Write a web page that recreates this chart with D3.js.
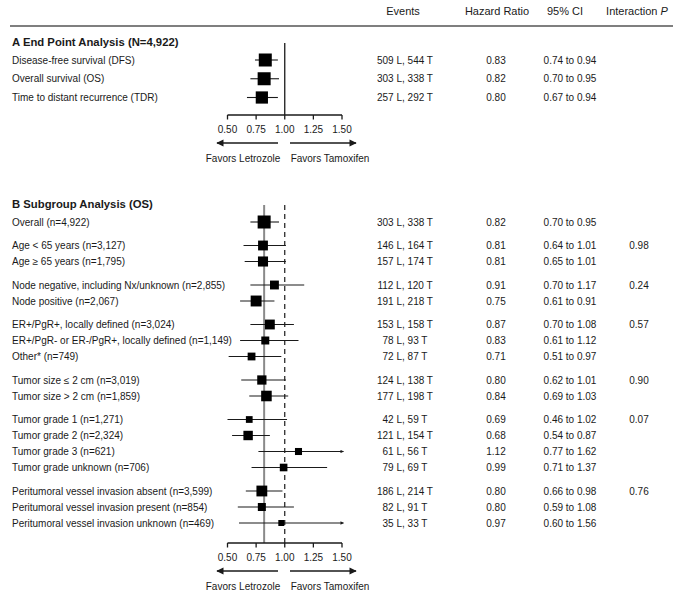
<!DOCTYPE html>
<html>
<head>
<meta charset="utf-8">
<script src="https://cdn.jsdelivr.net/npm/d3@7"></script>
<style>
  html, body { margin: 0; padding: 0; background: #fff; }
  svg { display: block; font-family: "Liberation Sans", Arial, sans-serif; }
</style>
</head>
<body>
<svg id="chart" width="685" height="593"></svg>
<script>
// ---------------- DATA ----------------
const headers = ["Events", "Hazard Ratio", "95% CI", "Interaction "];
const tickValues = [0.50, 0.75, 1.00, 1.25, 1.50];
const tickLabels = ["0.50", "0.75", "1.00", "1.25", "1.50"];
const favorsLabels = ["Favors Letrozole", "Favors Tamoxifen"];

const titleA = "A End Point Analysis (N=4,922)";
const labelsA = ["Disease-free survival (DFS)", "Overall survival (OS)", "Time to distant recurrence (TDR)"];
const eventsLA = [509, 303, 257];
const eventsTA = [544, 338, 292];
const hrA = [0.83, 0.82, 0.80];
const loA = [0.74, 0.70, 0.67];
const hiA = [0.94, 0.95, 0.94];

const titleB = "B Subgroup Analysis (OS)";
const labelsB = [
  "Overall (n=4,922)",
  "Age < 65 years (n=3,127)",
  "Age \u2265 65 years (n=1,795)",
  "Node negative, including Nx/unknown (n=2,855)",
  "Node positive (n=2,067)",
  "ER+/PgR+, locally defined (n=3,024)",
  "ER+/PgR- or ER-/PgR+, locally defined (n=1,149)",
  "Other* (n=749)",
  "Tumor size \u2264 2 cm (n=3,019)",
  "Tumor size > 2 cm (n=1,859)",
  "Tumor grade 1 (n=1,271)",
  "Tumor grade 2 (n=2,324)",
  "Tumor grade 3 (n=621)",
  "Tumor grade unknown (n=706)",
  "Peritumoral vessel invasion absent (n=3,599)",
  "Peritumoral vessel invasion present (n=854)",
  "Peritumoral vessel invasion unknown (n=469)"
];
const groupB = [0, 1, 1, 2, 2, 3, 3, 3, 4, 4, 5, 5, 5, 5, 6, 6, 6];
const eventsLB = [303, 146, 157, 112, 191, 153, 78, 72, 124, 177, 42, 121, 61, 79, 186, 82, 35];
const eventsTB = [338, 164, 174, 120, 218, 158, 93, 87, 138, 198, 59, 154, 56, 69, 214, 91, 33];
const hrB = [0.82, 0.81, 0.81, 0.91, 0.75, 0.87, 0.83, 0.71, 0.80, 0.84, 0.69, 0.68, 1.12, 0.99, 0.80, 0.80, 0.97];
const loB = [0.70, 0.64, 0.65, 0.70, 0.61, 0.70, 0.61, 0.51, 0.62, 0.69, 0.46, 0.54, 0.77, 0.71, 0.66, 0.59, 0.60];
const hiB = [0.95, 1.01, 1.01, 1.17, 0.91, 1.08, 1.12, 0.97, 1.01, 1.03, 1.02, 0.87, 1.62, 1.37, 0.98, 1.08, 1.56];
const pB  = ["", "0.98", "", "0.24", "", "0.57", "", "", "0.90", "", "0.07", "", "", "", "0.76", "", ""];
const overallHR = 0.82;

// ---------------- LAYOUT ----------------
const svg = d3.select("#chart");
const ink = "#1a1a1a";
const fs = 10;
const x = d3.scaleLinear().domain([0.5, 1.5]).range([227.5, 342]);
const xMin = 0.5, xMax = 1.5;
const boxSize = d3.scaleSqrt().domain([68, 641]).range([6, 13]).clamp(true);
const fmt = d3.format(".2f");

const colX = { label: 12, events: 405, hr: 496, ci: 570, p: 639 };
const headX = [403, 497, 565, 637];

// arrow marker defs
const defs = svg.append("defs");
defs.append("marker").attr("id", "bigArrow").attr("viewBox", "0 0 10 10")
  .attr("refX", 9).attr("refY", 5).attr("markerWidth", 6.5).attr("markerHeight", 4.5)
  .attr("markerUnits", "strokeWidth").attr("orient", "auto")
  .append("path").attr("d", "M0,0 L10,5 L0,10 Z").attr("fill", ink);
defs.append("marker").attr("id", "smallArrow").attr("viewBox", "0 0 10 10")
  .attr("refX", 9).attr("refY", 5).attr("markerWidth", 4).attr("markerHeight", 3)
  .attr("markerUnits", "strokeWidth").attr("orient", "auto")
  .append("path").attr("d", "M0,0 L10,5 L0,10 Z").attr("fill", ink);

// ---------------- HEADER ----------------
const hdr = svg.append("g");
headers.forEach((h, i) => {
  const t = hdr.append("text").attr("x", headX[i]).attr("y", 14.5)
    .attr("text-anchor", "middle").attr("font-size", 11).attr("fill", ink).text(h);
  if (i === 3) t.append("tspan").attr("font-style", "italic").text("P");
});
hdr.append("line").attr("x1", 10).attr("x2", 673).attr("y1", 26).attr("y2", 26)
  .attr("stroke", "#555").attr("stroke-width", 1.5);

// ---------------- helpers ----------------
function drawAxis(g, yAxis) {
  g.append("line").attr("x1", x(xMin)).attr("x2", x(xMax)).attr("y1", yAxis).attr("y2", yAxis)
    .attr("stroke", ink).attr("stroke-width", 1.3);
  g.selectAll(".tk").data(tickValues).enter().append("line")
    .attr("x1", d => x(d)).attr("x2", d => x(d))
    .attr("y1", yAxis).attr("y2", yAxis + 4.5)
    .attr("stroke", ink).attr("stroke-width", 1.3);
  g.selectAll(".tl").data(tickValues).enter().append("text")
    .attr("x", d => x(d)).attr("y", yAxis + 17.5)
    .attr("text-anchor", "middle").attr("font-size", fs).attr("fill", ink)
    .text((d, i) => tickLabels[i]);
  const ay = yAxis + 28;
  g.append("line").attr("x1", 278).attr("x2", 217).attr("y1", ay).attr("y2", ay)
    .attr("stroke", ink).attr("stroke-width", 1.6).attr("marker-end", "url(#bigArrow)");
  g.append("line").attr("x1", 290).attr("x2", 356).attr("y1", ay).attr("y2", ay)
    .attr("stroke", ink).attr("stroke-width", 1.6).attr("marker-end", "url(#bigArrow)");
  g.append("text").attr("x", 243).attr("y", ay + 18.5).attr("text-anchor", "middle")
    .attr("font-size", fs).attr("fill", ink).text(favorsLabels[0]);
  g.append("text").attr("x", 330).attr("y", ay + 18.5).attr("text-anchor", "middle")
    .attr("font-size", fs).attr("fill", ink).text(favorsLabels[1]);
}

function drawRows(g, rows, yFn) {
  const r = g.selectAll(".row").data(rows).enter().append("g");
  r.append("text").attr("x", colX.label).attr("y", d => yFn(d) + 3.6)
    .attr("font-size", fs).attr("fill", ink).text(d => d.label);
  r.append("text").attr("x", colX.events).attr("y", d => yFn(d) + 3.6)
    .attr("text-anchor", "middle").attr("font-size", fs).attr("fill", ink)
    .text(d => `${d.L} L, ${d.T} T`);
  r.append("text").attr("x", colX.hr).attr("y", d => yFn(d) + 3.6)
    .attr("text-anchor", "middle").attr("font-size", fs).attr("fill", ink)
    .text(d => fmt(d.hr));
  r.append("text").attr("x", colX.ci).attr("y", d => yFn(d) + 3.6)
    .attr("text-anchor", "middle").attr("font-size", fs).attr("fill", ink)
    .text(d => `${fmt(d.lo)} to ${fmt(d.hi)}`);
  r.append("text").attr("x", colX.p).attr("y", d => yFn(d) + 3.6)
    .attr("text-anchor", "middle").attr("font-size", fs).attr("fill", ink)
    .text(d => d.p || "");
  // CI lines
  r.append("line")
    .attr("x1", d => x(Math.max(d.lo, xMin))).attr("x2", d => x(Math.min(d.hi, xMax)) + (d.hi > xMax ? 1.5 : 0))
    .attr("y1", d => yFn(d)).attr("y2", d => yFn(d))
    .attr("stroke", ink).attr("stroke-width", 1.1)
    .attr("marker-end", d => d.hi > xMax ? "url(#smallArrow)" : null);
  // boxes
  r.append("rect")
    .attr("x", d => x(d.hr) - boxSize(d.L + d.T) / 2)
    .attr("y", d => yFn(d) - boxSize(d.L + d.T) / 2)
    .attr("width", d => boxSize(d.L + d.T))
    .attr("height", d => boxSize(d.L + d.T))
    .attr("fill", "#000");
}

// ---------------- PANEL A ----------------
const gA = svg.append("g");
gA.append("text").attr("x", colX.label).attr("y", 46).attr("font-size", 11.3)
  .attr("font-weight", "bold").attr("fill", ink).text(titleA);
const rowsA = labelsA.map((l, i) => ({ i, label: l, L: eventsLA[i], T: eventsTA[i], hr: hrA[i], lo: loA[i], hi: hiA[i], p: "" }));
const yA = d3.scaleLinear().domain([0, 2]).range([60, 97.5]);
const axisAY = 115;
gA.append("line").attr("x1", x(1)).attr("x2", x(1)).attr("y1", 43).attr("y2", axisAY)
  .attr("stroke", ink).attr("stroke-width", 1.3);
drawRows(gA, rowsA, d => yA(d.i));
drawAxis(gA, axisAY);

// ---------------- PANEL B ----------------
const gB = svg.append("g");
gB.append("text").attr("x", colX.label).attr("y", 208).attr("font-size", 11.3)
  .attr("font-weight", "bold").attr("fill", ink).text(titleB);
const rowsB = labelsB.map((l, i) => ({ i, g: groupB[i], label: l, L: eventsLB[i], T: eventsTB[i], hr: hrB[i], lo: loB[i], hi: hiB[i], p: pB[i] }));
const slot = d => d.i * 16 + d.g * 7.5;
const yB = d3.scaleLinear().domain([0, 301]).range([222, 523]);
const axisBY = 543;
gB.append("line").attr("x1", x(overallHR)).attr("x2", x(overallHR)).attr("y1", 205).attr("y2", axisBY)
  .attr("stroke", "#8a8a8a").attr("stroke-width", 2);
gB.append("line").attr("x1", x(1)).attr("x2", x(1)).attr("y1", 205).attr("y2", axisBY)
  .attr("stroke", ink).attr("stroke-width", 1.2).attr("stroke-dasharray", "5,4");
drawRows(gB, rowsB, d => yB(slot(d)));
drawAxis(gB, axisBY);
</script>
</body>
</html>
